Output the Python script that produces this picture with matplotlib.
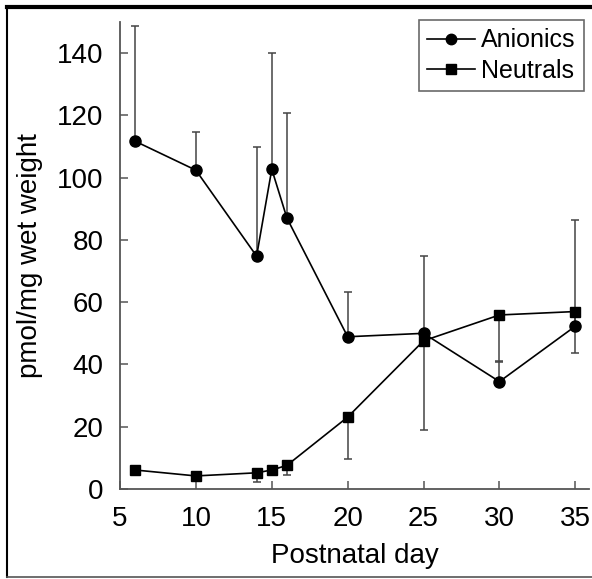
import numpy as np
import matplotlib.pyplot as plt
from matplotlib.lines import Line2D

plt.rcParams['font.family'] = ['Liberation Sans', 'DejaVu Sans']

days = [6, 10, 14, 15, 16, 20, 25, 30, 35]
anionics = [111.7, 102.4, 74.8, 102.7, 87.0, 48.9, 50.0, 34.5, 52.3]
anionics_err = [37.1, 12.4, 34.9, 37.5, 33.9, 14.5, 24.8, 6.5, 34.0]
neutrals = [6.1, 4.2, 5.2, 6.1, 7.6, 23.1, 47.6, 55.9, 57.0]
neutrals_err = [0.0, 0.0, 2.8, 0.0, 3.0, 13.5, 28.6, 15.0, 13.4]

fig = plt.figure(figsize=(5.92, 5.79), dpi=100)
ax = fig.add_axes([120/592, 1-489/579, (589-120)/592, (489-22)/579])

zeros = np.zeros(len(days))
ax.errorbar(days, anionics, yerr=[zeros, anionics_err], fmt='none', ecolor='#444444',
            elinewidth=1.1, capsize=3, capthick=1.1, zorder=2)
ax.errorbar(days, neutrals, yerr=[neutrals_err, zeros], fmt='none', ecolor='#444444',
            elinewidth=1.1, capsize=3, capthick=1.1, zorder=2)
ax.plot(days, anionics, '-o', color='black', lw=1.2, ms=8, zorder=3)
ax.plot(days, neutrals, '-s', color='black', lw=1.2, ms=7.5, zorder=3)

ax.set_xlim(5, 35.9)
ax.set_ylim(0, 150)
ax.set_xticks([5, 10, 15, 20, 25, 30, 35])
ax.set_yticks([0, 20, 40, 60, 80, 100, 120, 140])
ax.tick_params(direction='in', length=6, width=1.1, color='#555555', labelsize=20, pad=12)
for s in ['top', 'right']:
    ax.spines[s].set_visible(False)
for s in ['left', 'bottom']:
    ax.spines[s].set_color('#555555')
    ax.spines[s].set_linewidth(1.3)

ax.set_xlabel('Postnatal day', fontsize=20, labelpad=8)
ax.set_ylabel('pmol/mg wet weight', fontsize=20, labelpad=10)

handles = [Line2D([], [], color='black', marker='o', ms=7.5, lw=1.2),
           Line2D([], [], color='black', marker='s', ms=7, lw=1.2)]
leg = ax.legend(handles, ['Anionics', 'Neutrals'], loc='upper right', bbox_to_anchor=(0.99, 1.005),
                fontsize=18, frameon=True, fancybox=False, handlelength=1.9, handletextpad=0.25,
                borderpad=0.35, labelspacing=0.25, borderaxespad=0.0)
leg.get_frame().set_edgecolor('#444444')
leg.get_frame().set_linewidth(1.2)

# outer frame of the figure
fig.add_artist(Line2D([7/592, 7/592], [2/579, 1-7/579], color='black', lw=1.5, transform=fig.transFigure))
fig.add_artist(Line2D([7/592, 1], [1-7/579, 1-7/579], color='black', lw=3, transform=fig.transFigure))
fig.add_artist(Line2D([7/592, 1], [2/579, 2/579], color='#555555', lw=1.2, transform=fig.transFigure))

fig.savefig('out.png', dpi=100)
